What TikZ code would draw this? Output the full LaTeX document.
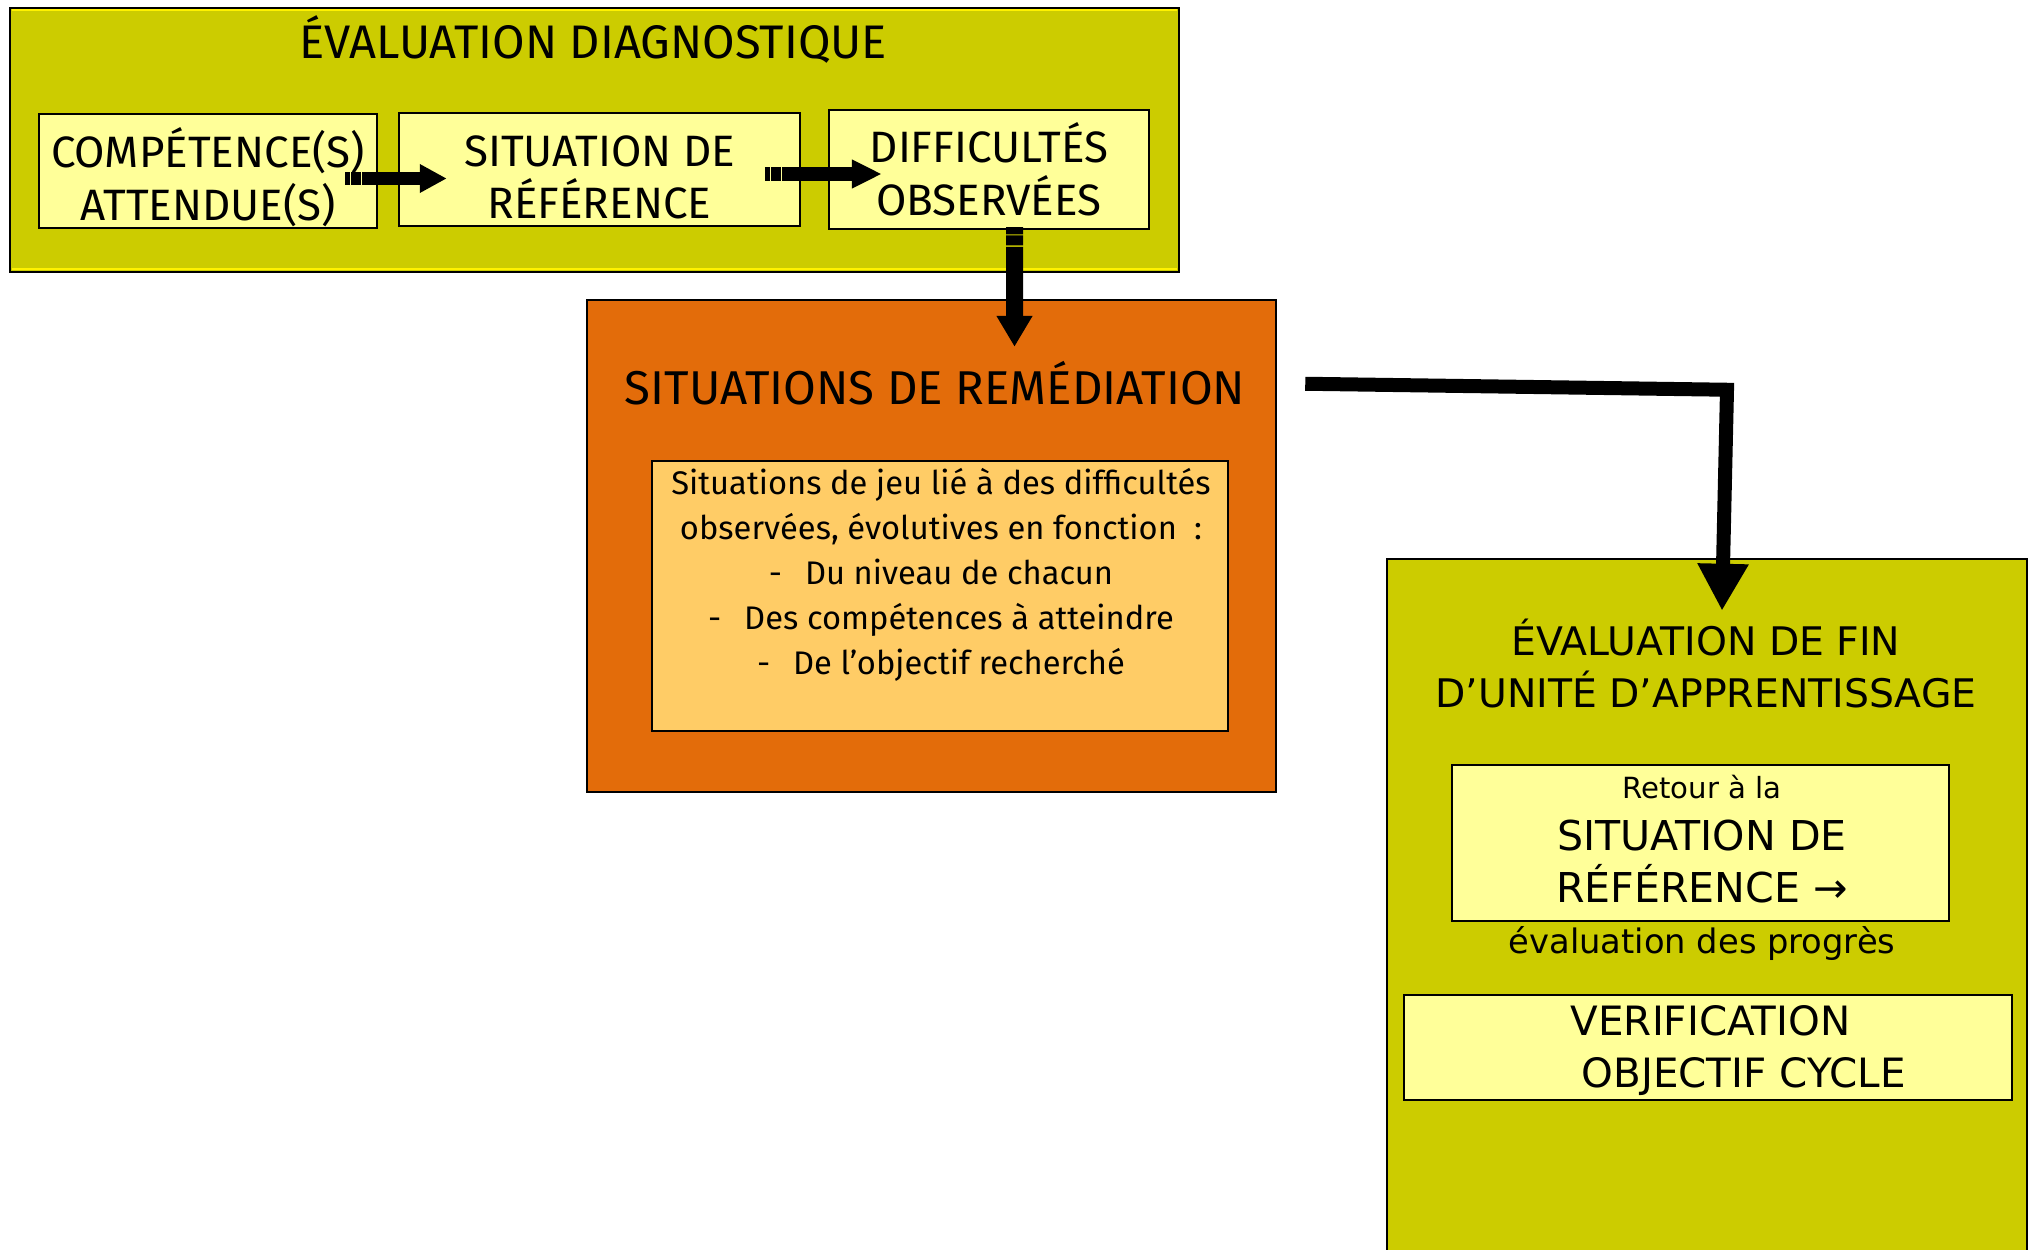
\documentclass[tikz,border=0pt]{standalone}
\usepackage{fontspec}
\setmainfont{Fira Sans}
\newfontfamily\widefont{DejaVu Sans}
\usetikzlibrary{arrows.meta, calc}
\definecolor{boxolive}{RGB}{204,204,0}
\definecolor{paleyellow}{RGB}{255,255,153}
\definecolor{remorange}{RGB}{227,108,10}
\definecolor{paleorange}{RGB}{255,204,102}

\begin{document}
\begin{tikzpicture}
        \tikzset{box/.style = {shape=rectangle,draw,line width=0.025cm,inner sep=0pt}}
        \tikzset{txt/.style = {align=center,inner sep=0pt}}
        \tikzset{block/.style n args = {3}{line width=#1,-{Triangle[length=#2,width=#3]}}}
        \tikzset{striped/.style = {dash pattern=on #1 off 0.012cm on 0.1cm off 0.015cm on 30cm off 0cm}}
        \path[use as bounding box,clip] (0,0) rectangle (20.29,-12.50);

        % evaluation diagnostique
        \node[box,fill=boxolive,minimum width=11.69cm,minimum height=2.64cm] (diag) at (5.945,-1.40) {};
        \draw[yellow,line width=0.02cm] (0.12,-0.10) -- (11.77,-0.10);
        \draw[yellow,line width=0.02cm] (0.12,-2.69) -- (11.77,-2.69);
        \node[txt,font=\fontsize{13.4}{16}\selectfont] (diagt) at (5.93,-0.39) {ÉVALUATION DIAGNOSTIQUE};
        \node[box,fill=paleyellow,minimum width=3.38cm,minimum height=1.14cm] (comp) at (2.08,-1.71) {};
        \node[box,fill=paleyellow,minimum width=4.01cm,minimum height=1.13cm] (sitref) at (5.995,-1.695) {};
        \node[box,fill=paleyellow,minimum width=3.20cm,minimum height=1.19cm] (diff) at (9.89,-1.695) {};
        \node[txt,font=\fontsize{12.5}{15}\selectfont] (compt) at ([yshift=-0.065cm]comp) {COMPÉTENCE(S)\\ATTENDUE(S)};
        \node[txt,font=\fontsize{12.5}{15}\selectfont] (sitreft) at ([yshift=-0.08cm]sitref) {SITUATION DE\\RÉFÉRENCE};
        \node[txt,font=\fontsize{12.5}{15}\selectfont] (difft) at (diff) {DIFFICULTÉS\\OBSERVÉES};

        % remediation
        \node[box,fill=remorange,minimum width=6.89cm,minimum height=4.92cm] (remed) at (9.315,-5.46) {};
        \node[txt,font=\fontsize{13.5}{16}\selectfont] (remedt) at (9.35,-3.83) {SITUATIONS DE REMÉDIATION};
        \node[box,fill=paleorange,minimum width=5.76cm,minimum height=2.70cm] (remin) at (9.40,-5.96) {};
        \node[txt,font=\fontsize{9.3}{12.8}\selectfont] (remintxt) at (9.41,-5.745)
          {Situations de jeu lié à des difficultés\\observées, évolutives en fonction~~:\\-\hspace{0.7em}Du niveau de chacun\\-\hspace{0.7em}Des compétences à atteindre\\-\hspace{0.7em}De l’objectif recherché};

        % evaluation de fin
        \node[box,fill=boxolive,minimum width=6.40cm,minimum height=7.31cm] (fin) at (17.07,-9.245) {};
        \node[txt,font=\widefont\fontsize{11.2}{14.8}\selectfont] (fint) at (17.06,-6.635) {ÉVALUATION DE FIN\\D’UNITÉ D’APPRENTISSAGE};
        \node[box,fill=paleyellow,minimum width=4.97cm,minimum height=1.56cm] (ret) at (17.005,-8.43) {};
        \node[txt,font=\widefont\fontsize{8.3}{10}\selectfont] (rett) at (17.02,-7.87) {Retour à la};
        \node[txt,font=\widefont\fontsize{11.7}{14.8}\selectfont] (retref) at (17.02,-8.62) {SITUATION DE\\RÉFÉRENCE →};
        \node[txt,font=\widefont\fontsize{9.6}{12}\selectfont] (prog) at (17.02,-9.435) {évaluation des progrès};
        \node[box,fill=paleyellow,minimum width=6.08cm,minimum height=1.05cm] (verif) at (17.08,-10.475) {};
        \node[txt,align=left,anchor=west,font=\widefont\fontsize{11.5}{14.8}\selectfont] (veriftxt) at (15.70,-10.51) {VERIFICATION\\\hspace*{0.11cm}OBJECTIF CYCLE};

        % arrows
        \coordinate (c1) at ([shift={(-0.33,-0.075)}]comp.east);
        \coordinate (c2) at ([shift={(0.49,-0.09)}]sitref.west);
        \coordinate (c3) at ([shift={(-0.365,-0.045)}]sitref.east);
        \coordinate (c4) at ([shift={(0.54,-0.045)}]diff.west);
        \coordinate (c5) at ([shift={(0.255,0.03)}]diff.south);
        \coordinate (c6) at ([shift={(0.83,-0.48)}]remed.north);
        \coordinate (c7) at ([shift={(0.28,-0.85)}]remed.north east);
        \coordinate (c8) at ([shift={(0.20,1.68)}]fin.north);
        \coordinate (c9) at ([shift={(0.15,-0.53)}]fin.north);

        \draw[block={0.13cm}{0.27cm}{0.27cm},striped=0.045cm] (c1) to (c2);
        \draw[block={0.14cm}{0.30cm}{0.27cm},striped=0.05cm] (c3) to (c4);
        \draw[block={0.17cm}{0.31cm}{0.34cm},striped=0.07cm] (c5) to (c6);
        \draw[block={0.14cm}{0.47cm}{0.48cm},line join=miter] (c7) -- (c8) -- (c9);
      \end{tikzpicture}
\end{document}
